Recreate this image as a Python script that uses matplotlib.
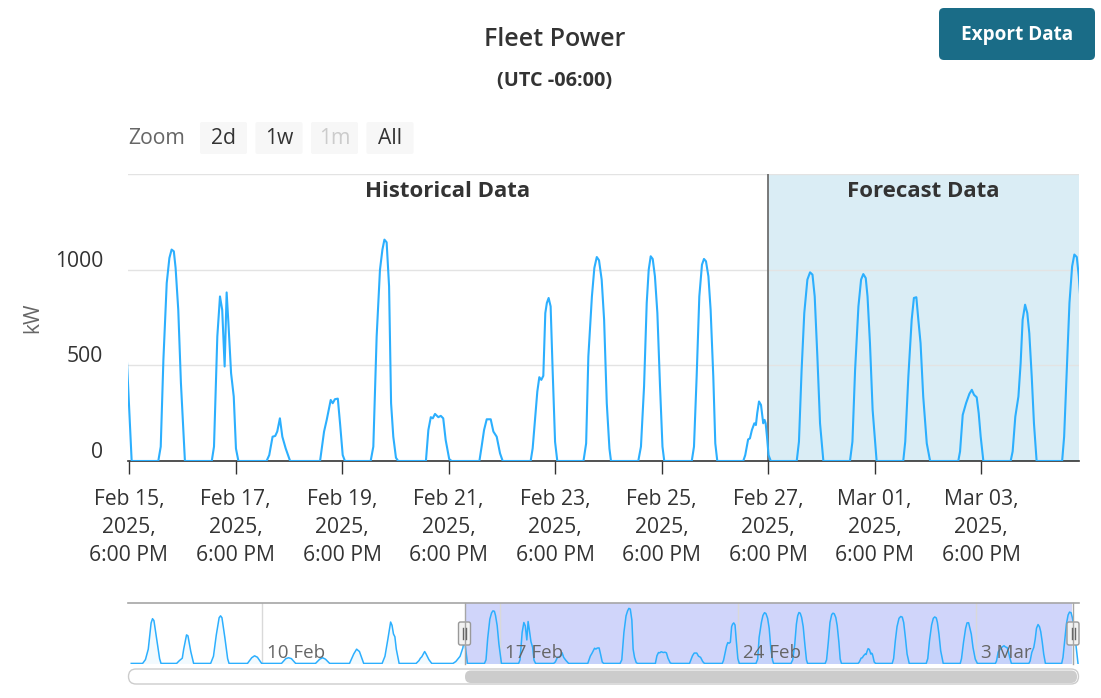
import datetime as dt

import matplotlib
matplotlib.use("Agg")
import matplotlib.pyplot as plt
from matplotlib.patches import FancyBboxPatch
from matplotlib.transforms import ScaledTranslation

W, H = 1101, 698
BASE = dt.datetime(2025, 2, 15, 18, 0)  # local time (UTC -06:00), first main tick

# values: hours after BASE, kW
# navigator-only history (Feb 6 - Feb 15)
early_h = [-236, -228, -226, -224, -222, -221, -220, -218, -216, -215,
           -204, -202, -200, -199, -197, -196, -194, -192,
           -180, -178, -176, -174, -173, -172, -170, -168, -167,
           -154, -151, -149, -147, -144,
           -130, -127, -125, -123, -120,
           -106, -103, -101, -99, -96,
           -82, -79, -77, -75, -72,
           -59, -57, -55, -53, -52, -51, -50, -49, -47,
           -35, -33, -32, -31, -29, -28, -26, -24,
           -9, -7, -4, -2]
early_kw = [0, 0, 80, 300, 850, 940, 900, 500, 100, 0,
            0, 60, 110, 300, 600, 580, 250, 0,
            0, 150, 600, 960, 1000, 960, 550, 100, 0,
            0, 120, 160, 130, 0,
            0, 100, 120, 100, 0,
            0, 90, 120, 90, 0,
            0, 200, 300, 250, 0,
            0, 150, 500, 870, 800, 620, 560, 300, 0,
            0, 60, 110, 140, 250, 200, 80, 0,
            0, 40, 150, 330]

# historical (main window, up to Feb 27 6 PM)
hist_h = [-1, 1.2,
          13.2, 14.3, 15.5, 17, 18.2, 19.2, 20.2, 21, 22.2, 23.4, 25.2,
          37.3, 38.3, 39.8, 41, 42, 43.1, 44, 44.8, 46, 47.2, 48.2, 49.3,
          62, 63.2, 64.7, 65.9, 66.8, 68, 69.1, 70.6, 72.6,
          86.1, 87.9, 89.1, 90.9, 91.8, 92.8, 94.1, 95.1, 96.3, 97.3,
          108.9, 110.1, 111.6, 113.1, 114.2, 115.1, 116.1, 117.2, 118.1, 119.1, 120.3, 121.3,
          133.8, 134.9, 136, 136.9, 137.9, 139.4, 140.5, 141.6, 142.7, 144.3, 145.4,
          157.9, 158.9, 160, 161.2, 163, 164.2, 165.7, 167.2, 168.4,
          181, 181.9, 183, 184, 184.9, 185.8, 186.7, 187.6, 188.3, 189.1, 190, 190.9, 192, 193,
          204.8, 206, 207, 208.6, 209.7, 210.8, 211.8, 213, 214.1, 215.3, 216.5, 217.2,
          229.5, 230.7, 232.1, 233.3, 234.2, 235.1, 236, 237, 238.1, 239.3, 240.4, 241.2,
          253.6, 254.6, 255.8, 257, 258.2, 259.1, 260, 261.1, 262.1, 263.3, 264.2, 265.1,
          276.8, 277.7, 279, 279.8, 280.7, 281.8, 282.5, 283.1, 283.9, 284.8, 285.8, 286.4, 286.9, 287.5]
hist_kw = [540, 0,
           0, 75, 529, 930, 1061, 1105, 1096, 1009, 790, 407, 0,
           0, 75, 651, 860, 790, 494, 881, 721, 459, 337, 65, 0,
           0, 31, 127, 131, 154, 223, 127, 66, 0,
           0, 154, 215, 319, 302, 323, 326, 197, 31, 0,
           0, 75, 651, 1000, 1105, 1157, 1143, 912, 302, 127, 17, 0,
           0, 162, 229, 223, 246, 229, 236, 223, 110, 10, 0,
           0, 75, 162, 218, 218, 154, 127, 40, 0,
           0, 66, 223, 363, 438, 424, 445, 773, 826, 852, 808, 476, 100, 0,
           0, 92, 546, 860, 1009, 1066, 1049, 948, 738, 302, 65, 0,
           0, 75, 389, 826, 1000, 1070, 1056, 965, 773, 389, 75, 0,
           0, 75, 441, 860, 1026, 1056, 1044, 965, 790, 441, 92, 0,
           0, 31, 113, 118, 162, 197, 188, 250, 311, 293, 197, 215, 197, 127]

# forecast (Feb 27 6 PM onwards)
fcst_h = [288.2, 289.2,
          300.9, 301.9, 303.1, 304.3, 305.7, 306.9, 308, 309, 310.2, 311.4, 312.9,
          324.9, 326, 327.2, 328.7, 329.9, 330.9, 332, 332.8, 333.9, 335.1, 336.9,
          348.9, 349.8, 351.2, 352.7, 353.7, 354.8, 355.7, 356.7, 357.9, 359.5, 361,
          373.7, 374.5, 375.7, 377.2, 378.7, 379.8, 380.8, 382, 382.9, 383.8, 385,
          397.3, 398.2, 399.4, 400.8, 401.8, 402.7, 403.8, 404.8, 405.7, 406.8, 407.8, 409,
          420.5, 421.4, 422.6, 423.8, 425, 426, 427.1, 428, 429, 430.5, 432]
fcst_kw = [31, 0,
           0, 101, 476, 773, 948, 986, 974, 860, 546, 197, 0,
           0, 101, 476, 808, 948, 977, 956, 860, 616, 267, 0,
           0, 101, 441, 738, 852, 856, 738, 616, 337, 92, 0,
           0, 50, 241, 302, 351, 372, 346, 333, 250, 127, 0,
           0, 50, 232, 337, 511, 738, 817, 773, 668, 441, 197, 0,
           0, 127, 476, 826, 1017, 1079, 1066, 965, 800, 400, 0]

FORECAST_START_H = 288
VIEW_H = (-0.45, 428.1)        # selected range shown in the main chart
NAV_RANGE_H = (-238.3, 432.7)  # full navigator range
MAIN_TICK_H = [0, 48, 96, 144, 192, 240, 288, 336, 384]
Y_TICKS = [0, 500, 1000]
NAV_TICK_H = [-144, 24, 192, 360]
NAV_TICK_LABELS = ["10 Feb", "17 Feb", "24 Feb", "3 Mar"]
ZOOM_BUTTONS = ["2d", "1w", "1m", "All"]

LINE = "#2caffe"
plt.rcParams["font.family"] = ["Open Sans", "DejaVu Sans"]


def px_box(x0, y0, x1, y1):
    return [x0 / W, 1 - y1 / H, (x1 - x0) / W, (y1 - y0) / H]


def tick_label(h):
    t = BASE + dt.timedelta(hours=h)
    hour = t.hour % 12 or 12
    return f"{t:%b %d},\n{t:%Y},\n{hour}:{t:%M} {t:%p}"


fig = plt.figure(figsize=(W / 100, H / 100), dpi=100)
fig.patch.set_facecolor("white")

main_h = hist_h + fcst_h
main_kw = hist_kw + fcst_kw

# --- main chart ---
ax = fig.add_axes(px_box(128, 174, 1079, 461))
ax.set_xlim(*VIEW_H)
ax.set_ylim(0, 1500)
ax.axvspan(FORECAST_START_H, VIEW_H[1], color="#daedf5", lw=0, zorder=0)
for v in [500, 1000, 1500]:
    ax.axhline(v, color="#e3e3e3", lw=1, zorder=1)
ax.axvline(FORECAST_START_H, color="#6e6e6e", lw=1.3, zorder=2)
ax.plot(main_h, main_kw, color=LINE, lw=1.5, zorder=3, solid_joinstyle="round")

for side in ["top", "right", "left"]:
    ax.spines[side].set_visible(False)
ax.spines["bottom"].set_color("#333333")
ax.spines["bottom"].set_linewidth(1.2)

ax.set_xticks(MAIN_TICK_H)
ax.set_xticklabels([tick_label(h) for h in MAIN_TICK_H])
ax.tick_params(axis="x", length=9.5, width=1, color="#333333", pad=11,
               labelsize=15.2, labelcolor="#333333")
for lbl in ax.get_xticklabels():
    lbl.set_linespacing(1.42)

ax.set_yticks(Y_TICKS)
ax.set_yticklabels([str(v) for v in Y_TICKS])
ax.tick_params(axis="y", length=0, pad=18, labelsize=15.2, labelcolor="#333333")
shift = ScaledTranslation(0, 11 / 100, fig.dpi_scale_trans)
for lbl in ax.get_yticklabels():
    lbl.set_transform(lbl.get_transform() + shift)

ax.text((VIEW_H[0] + FORECAST_START_H) / 2, 0.94, "Historical Data",
        transform=ax.get_xaxis_transform(), ha="center", va="center",
        fontsize=16, fontweight="bold", color="#333333")
ax.text((FORECAST_START_H + VIEW_H[1]) / 2, 0.94, "Forecast Data",
        transform=ax.get_xaxis_transform(), ha="center", va="center",
        fontsize=16, fontweight="bold", color="#333333")

# --- navigator ---
all_h = early_h + main_h
all_kw = early_kw + main_kw
nav = fig.add_axes(px_box(128, 603, 1079, 664))
nav.set_xlim(*NAV_RANGE_H)
nav.set_ylim(-12, 1270)
nav.axis("off")
nav.axvspan(*VIEW_H, color="#d0d5fa", lw=0, zorder=1)
for h in NAV_TICK_H:
    nav.axvline(h, color="#d9d9d9", lw=1, zorder=1.5)
nav.fill_between(all_h, all_kw, 0, color=LINE, alpha=0.06, lw=0, zorder=2)
nav.plot(all_h, all_kw, color=LINE, lw=1.1, zorder=3)
for h, lab in zip(NAV_TICK_H, NAV_TICK_LABELS):
    nav.text(h + 3.5, 0.18, lab, transform=nav.get_xaxis_transform(),
             ha="left", va="center", fontsize=13.5, color="#666666", zorder=4)

# --- overlay in pixel coordinates (title, buttons, navigator chrome) ---
ov = fig.add_axes([0, 0, 1, 1], zorder=10)
ov.set_xlim(0, W)
ov.set_ylim(H, 0)
ov.axis("off")

ov.text(555, 40, "Fleet Power", ha="center", va="center", fontsize=18,
        color="#333333", fontweight="semibold")
ov.text(555, 81, "(UTC -06:00)", ha="center", va="center", fontsize=14.3,
        color="#333333", fontweight="bold")
ov.text(33, 318, "kW", ha="center", va="center", rotation=90, fontsize=15.2,
        color="#666666")

ov.add_patch(FancyBboxPatch((939, 8), 156, 52, boxstyle="round,pad=0,rounding_size=5",
                            fc="#1a6c87", ec="none"))
ov.text(1017, 35, "Export Data", ha="center", va="center", fontsize=13.7,
        fontweight="bold", color="white")

ov.text(128, 139, "Zoom", ha="left", va="center", fontsize=15.2, color="#666666")
for i, lab in enumerate(ZOOM_BUTTONS):
    x0 = 200 + i * 55.5
    ov.add_patch(FancyBboxPatch((x0, 122), 47, 32, boxstyle="round,pad=0,rounding_size=2",
                                fc="#f7f7f7", ec="none"))
    ov.text(x0 + 23.5, 139, lab, ha="center", va="center", fontsize=15.2,
            color="#cccccc" if lab == "1m" else "#333333")

# navigator outline and handles
ov.plot([128, 1079], [603, 603], color="#a6a6a6", lw=1.2)
for xh in (464.5, 1073):
    ov.plot([xh, xh], [603, 664], color="#a6a6a6", lw=1)
    ov.add_patch(FancyBboxPatch((xh - 6, 622), 12, 23, boxstyle="round,pad=0,rounding_size=2",
                                fc="#f2f2f2", ec="#999999", lw=1))
    for dx in (-1.5, 1.5):
        ov.plot([xh + dx, xh + dx], [628, 639], color="#666666", lw=1)

# scrollbar
ov.add_patch(FancyBboxPatch((128.5, 669), 950, 15, boxstyle="round,pad=0,rounding_size=7.5",
                            fc="white", ec="#cccccc", lw=1))
ov.add_patch(FancyBboxPatch((465, 670.5), 612, 12.5, boxstyle="round,pad=0,rounding_size=6",
                            fc="#cccccc", ec="none"))

fig.savefig("out.png", dpi=100, facecolor="white")
